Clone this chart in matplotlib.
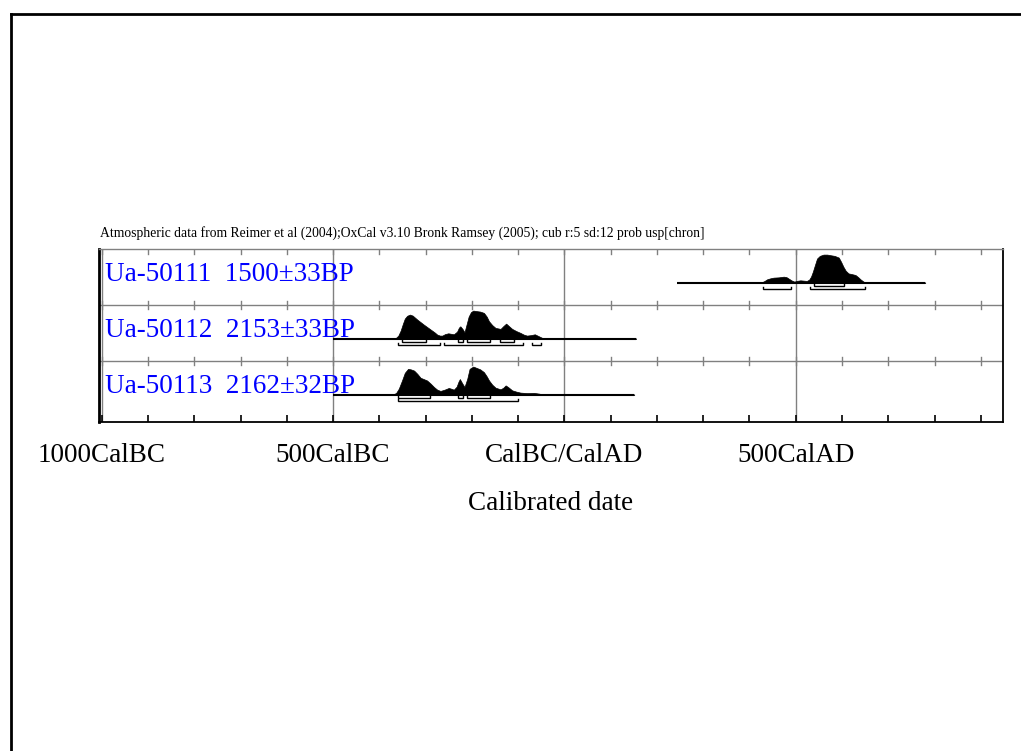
import numpy as np
import matplotlib
matplotlib.use("Agg")
import matplotlib.pyplot as plt
from matplotlib.lines import Line2D

plt.rcParams['font.family'] = ['Liberation Serif', 'DejaVu Serif']

# samples, top row first
labels = ["Ua-50111  1500\u00b133BP", "Ua-50112  2153\u00b133BP", "Ua-50113  2162\u00b132BP"]

# calibrated probability curves (year, relative density)
years_1 = [244, 425, 432, 438, 445, 452, 463, 474, 480, 485, 491, 497, 503, 510, 517, 524,
           529, 533, 537, 541, 546, 552, 560, 568, 575, 584, 593, 598, 603, 608, 614,
           622, 629, 635, 640, 645, 650, 780]
prob_1 = [0, 0, 1.5, 3.3, 4.3, 5, 5.3, 6, 5.5, 4, 2.2, 1, 1.8, 2.3, 2, 1.7,
          3, 6, 11, 17, 24.3, 27, 28.3, 28.3, 27.7, 27, 25.3, 21, 16, 12, 9.3,
          8.5, 7.7, 5.5, 3.3, 1.5, 0, 0]

years_2 = [-500, -372, -364, -359, -354, -349, -345, -340, -334, -328, -318, -304, -289,
           -280, -275, -269, -264, -258, -251, -245, -239, -232, -228, -225, -220, -216,
           -211, -207, -202, -197, -190, -182, -174, -168, -163, -156, -149, -138, -132,
           -126, -120, -113, -104, -95, -88, -81, -72, -64, -56, -48, -40, 155]
prob_2 = [0, 0, 0.8, 3, 8, 15, 20, 22.8, 24, 23, 19, 14, 9,
          6, 4, 3, 3, 4.5, 5.3, 4.8, 4.3, 7, 11, 12.3, 9.5, 6.3,
          15, 22, 26.5, 28, 27.5, 27, 25.7, 22, 17.3, 13.5, 10.7, 9.7, 12.5,
          15, 12.5, 9.7, 7.5, 5.7, 4, 3, 3.5, 4.3, 2.5, 0.7, 0, 0]

years_3 = [-500, -372, -364, -358, -351, -345, -338, -332, -325, -318, -311, -297, -289,
           -282, -275, -268, -259, -250, -245, -239, -233, -229, -226, -221, -216, -210,
           -205, -200, -197, -190, -182, -174, -168, -163, -156, -149, -138, -132, -127,
           -120, -113, -104, -95, -80, -66, -55, -45, 151]
prob_3 = [0, 0, 1.5, 6, 14.3, 22, 26, 25.5, 24.3, 21, 17, 14.3, 11,
          7.7, 5, 3.7, 5, 6.7, 6, 5, 8, 13, 15.7, 11.5, 7.7, 16,
          26, 27.5, 28.3, 27, 25.5, 22.7, 18.5, 14.3, 10, 7, 5.3, 7, 9.3,
          7, 4.3, 3, 2, 1.5, 1.7, 1, 0, 0]

# highest probability ranges
range68_1 = [(540, 605)]
range95_1 = [(430, 490), (530, 650)]
range68_2 = [(-350, -300), (-230, -220), (-210, -160), (-140, -110)]
range95_2 = [(-360, -270), (-260, -90), (-70, -50)]
range68_3 = [(-360, -290), (-230, -220), (-210, -160)]
range95_3 = [(-360, -100)]

major_ticks = [-1000, -500, 0, 500]
major_labels = ["1000CalBC", "500CalBC", "CalBC/CalAD", "500CalAD"]

title = ("Atmospheric data from Reimer et al (2004);OxCal v3.10 Bronk Ramsey (2005); "
         "cub r:5 sd:12 prob usp[chron]")

series = [(years_1, prob_1, range68_1, range95_1),
          (years_2, prob_2, range68_2, range95_2),
          (years_3, prob_3, range68_3, range95_3)]


def draw_brackets(ax, ranges, y, h):
    for a, b in ranges:
        ax.plot([a, a, b, b], [y + h, y, y, y + h], color='black', lw=1.0,
                solid_joinstyle='miter')


fig = plt.figure(figsize=(10.21, 7.51), dpi=100)
ax = fig.add_axes([99 / 1021, 1 - 421.7 / 751, 904 / 1021, 172.7 / 751])
nrows = len(series)
ax.set_xlim(-1006, 948)
ax.set_ylim(-0.084, nrows)

for i, (yrs, pr, r68, r95) in enumerate(series):
    base = nrows - 1 - i + 0.4
    yrs = np.array(yrs, dtype=float)
    pr = np.array(pr, dtype=float)
    pr = pr / pr.max() * 0.5
    ax.fill_between(yrs, base, base + pr, color='black', lw=0.5, edgecolor='black')
    ax.plot([yrs[0], yrs[-1]], [base, base], color='black', lw=1.5,
            solid_capstyle='butt')
    draw_brackets(ax, r68, base - 0.06, 0.043)
    draw_brackets(ax, r95, base - 0.12, 0.043)
    ax.text(0.0066, nrows - i - 0.57, labels[i], transform=ax.get_yaxis_transform(),
            color='#0000ff', fontsize=19.5, va='baseline', ha='left')

# row separators and frame
for k in range(1, nrows):
    ax.axhline(k, color='#808080', lw=1)
for x in major_ticks:
    ax.axvline(x, color='#808080', lw=1, zorder=0)

ax.spines['top'].set_color('#808080')
ax.spines['top'].set_linewidth(1)
for s in ['left', 'right', 'bottom']:
    ax.spines[s].set_color('black')
    ax.spines[s].set_linewidth(1.3)
ax.spines['left'].set_linewidth(2)

minor = np.arange(-1000, 901, 100)
ax.set_xticks(major_ticks, major_labels, fontsize=19.5)
ax.set_xticks(minor, minor=True)
ax.tick_params(axis='x', which='both', direction='in', length=5.2, width=1.2,
               color='black', pad=15.5)
ax.set_yticks([])

# short grey ticks along the top edge and across each row separator
xt = ax.get_xaxis_transform()
for x in minor:
    ax.plot([x, x], [1 - 0.03, 1], color='#808080', lw=1, transform=xt)
    for k in range(1, nrows):
        ax.plot([x, x], [k - 0.07, k + 0.07], color='#808080', lw=1)

ax.set_xlabel("Calibrated date", fontsize=19.5, labelpad=16.5)

fig.text(100 / 1021, 1 - 237 / 751, title, fontsize=9.8, ha='left', va='baseline')

# page border
fy = 1 - 13.7 / 751
fx = 10.5 / 1021
fig.add_artist(Line2D([fx, fx], [0, fy], color='black', lw=2, transform=fig.transFigure))
fig.add_artist(Line2D([fx, 1], [fy, fy], color='black', lw=2, transform=fig.transFigure))

fig.savefig("out.png", dpi=100)
